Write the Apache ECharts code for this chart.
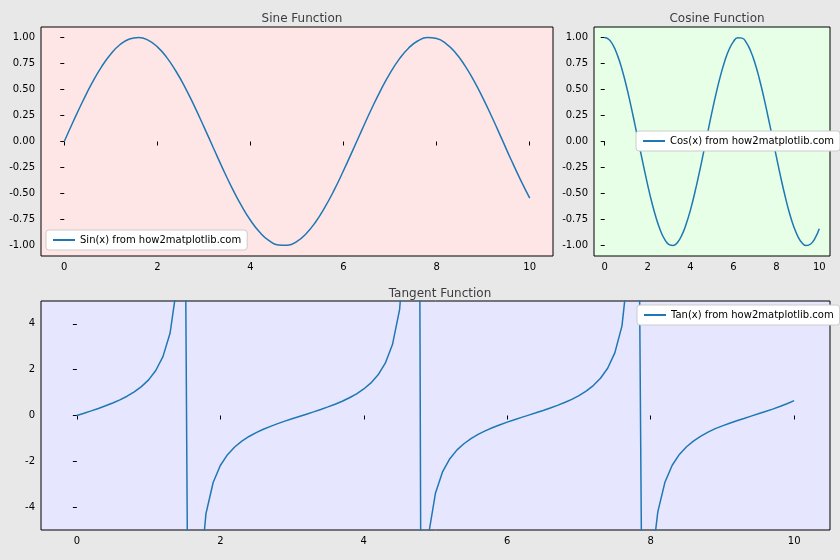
<!DOCTYPE html>
<html>
<head>
<meta charset="utf-8">
<script src="https://cdn.jsdelivr.net/npm/echarts@6/dist/echarts.min.js"></script>
<style>
  html, body { margin: 0; padding: 0; background: #e8e8e8; }
  #chart { width: 840px; height: 560px; }
</style>
</head>
<body>
<div id="chart"></div>
<script>
// values, x step 0.2 for sin/cos, 0.1 for tan
const sinValues = [0, 0.199, 0.389, 0.565, 0.717, 0.841, 0.932, 0.985, 1.000, 0.974, 0.909, 0.808, 0.675, 0.516, 0.335, 0.141,
    -0.058, -0.256, -0.443, -0.612, -0.757, -0.872, -0.952, -0.994, -0.996, -0.959, -0.883, -0.773, -0.631, -0.465, -0.279,
    -0.083, 0.117, 0.312, 0.494, 0.657, 0.794, 0.899, 0.968, 0.999, 0.989, 0.941, 0.855, 0.734, 0.585, 0.412, 0.223, 0.025,
    -0.175, -0.366, -0.544];
const cosValues = [1, 0.980, 0.921, 0.825, 0.697, 0.540, 0.362, 0.170, -0.029, -0.227, -0.416, -0.589, -0.737, -0.857, -0.942,
    -0.990, -0.998, -0.967, -0.897, -0.791, -0.654, -0.490, -0.307, -0.112, 0.087, 0.284, 0.469, 0.635, 0.776, 0.886, 0.960,
    0.997, 0.993, 0.950, 0.869, 0.754, 0.608, 0.438, 0.250, 0.054, -0.146, -0.340, -0.519, -0.679, -0.811, -0.911, -0.975,
    -1.000, -0.985, -0.931, -0.839];
const tanValues = [0, 0.100, 0.203, 0.309, 0.423, 0.546, 0.684, 0.842, 1.030, 1.260, 1.557, 1.965, 2.572, 3.602, 5.798, 14.10,
    -34.23, -7.697, -4.286, -2.927, -2.185, -1.710, -1.374, -1.119, -0.916, -0.747, -0.602, -0.473, -0.356, -0.247, -0.143,
    -0.042, 0.058, 0.159, 0.264, 0.375, 0.493, 0.622, 0.774, 0.947, 1.158, 1.424, 1.778, 2.286, 3.096, 4.637, 8.860, 80.71,
    -11.38, -5.267, -3.381, -2.449, -1.886, -1.501, -1.222, -0.996, -0.814, -0.660, -0.525, -0.403, -0.291, -0.185, -0.083,
    0.017, 0.117, 0.220, 0.327, 0.441, 0.566, 0.707, 0.871, 1.067, 1.308, 1.625, 2.065, 2.733, 3.914, 6.820, 24.50, -17.78,
    -6.800, -4.200, -2.901, -2.172, -1.700, -1.365, -1.106, -0.897, -0.724, -0.575, -0.452, -0.338, -0.231, -0.130, -0.027,
    0.073, 0.174, 0.280, 0.392, 0.514, 0.648];
const xTicks = [0, 2, 4, 6, 8, 10];
const trigTicks = [-1, -0.75, -0.5, -0.25, 0, 0.25, 0.5, 0.75, 1];
const tanTicks = [-4, -2, 0, 2, 4];

let myChart = echarts.init(document.getElementById('chart'));
const font = 'DejaVu Sans';
const blue = '#1f77b4';

function pairs(values, step) {
    return values.map((v, i) => [+(i * step).toFixed(2), v]);
}

function xAxis(idx) {
    return {
        type: 'value', gridIndex: idx, min: -0.5, max: 10.5,
        axisLine: { show: false }, splitLine: { show: false },
        axisTick: { customValues: xTicks, length: 4, lineStyle: { color: '#000' } },
        axisLabel: { customValues: xTicks, color: '#000', fontSize: 10, fontFamily: font, margin: 6 }
    };
}

function yAxis(idx, min, max, ticks, fmt) {
    return {
        type: 'value', gridIndex: idx, min: min, max: max,
        axisLine: { show: false }, splitLine: { show: false },
        axisTick: { show: true, customValues: ticks, length: 4, lineStyle: { color: '#000' } },
        axisLabel: { customValues: ticks, color: '#000', fontSize: 10, fontFamily: font, margin: 6, formatter: fmt }
    };
}

const gridStyle = { show: true, borderColor: '#000', borderWidth: 1 };
const legendStyle = {
    backgroundColor: '#fff', borderColor: '#ccc', borderWidth: 1, borderRadius: 3, padding: [5, 6],
    itemWidth: 22, itemHeight: 2, textStyle: { fontSize: 10, fontFamily: font, color: '#000' }
};
const fmt2 = v => v.toFixed(2);

let option = {
    animation: false,
    backgroundColor: '#e8e8e8',
    title: [
        { text: 'Sine Function', left: 297, top: 8, textAlign: 'center', textStyle: { fontSize: 12, fontWeight: 'normal', fontFamily: font } },
        { text: 'Cosine Function', left: 712, top: 8, textAlign: 'center', textStyle: { fontSize: 12, fontWeight: 'normal', fontFamily: font } },
        { text: 'Tangent Function', left: 435, top: 283, textAlign: 'center', textStyle: { fontSize: 12, fontWeight: 'normal', fontFamily: font } }
    ],
    grid: [
        Object.assign({ left: 41, top: 27, width: 512, height: 229, backgroundColor: '#ffe6e6' }, gridStyle),
        Object.assign({ left: 594, top: 27, width: 236, height: 229, backgroundColor: '#e6ffe6' }, gridStyle),
        Object.assign({ left: 41, top: 301, width: 789, height: 229, backgroundColor: '#e6e6ff' }, gridStyle)
    ],
    legend: [
        Object.assign({ data: ['Sin(x) from how2matplotlib.com'], left: 46, top: 230 }, legendStyle),
        Object.assign({ data: ['Cos(x) from how2matplotlib.com'], left: 636, top: 131 }, legendStyle),
        Object.assign({ data: ['Tan(x) from how2matplotlib.com'], left: 637, top: 305 }, legendStyle)
    ],
    xAxis: [xAxis(0), xAxis(1), xAxis(2)],
    yAxis: [
        yAxis(0, -1.1, 1.1, trigTicks, fmt2),
        yAxis(1, -1.1, 1.1, trigTicks, fmt2),
        yAxis(2, -5, 5, tanTicks, v => String(v))
    ],
    series: [
        { name: 'Sin(x) from how2matplotlib.com', type: 'line', xAxisIndex: 0, yAxisIndex: 0, data: pairs(sinValues, 0.2), symbol: 'none', smooth: true, color: blue, lineStyle: { width: 1.5 } },
        { name: 'Cos(x) from how2matplotlib.com', type: 'line', xAxisIndex: 1, yAxisIndex: 1, data: pairs(cosValues, 0.2), symbol: 'none', smooth: true, color: blue, lineStyle: { width: 1.5 } },
        { name: 'Tan(x) from how2matplotlib.com', type: 'line', xAxisIndex: 2, yAxisIndex: 2, data: pairs(tanValues, 0.1), symbol: 'none', clip: true, color: blue, lineStyle: { width: 1.5 } }
    ]
};
myChart.setOption(option);
</script>
</body>
</html>
